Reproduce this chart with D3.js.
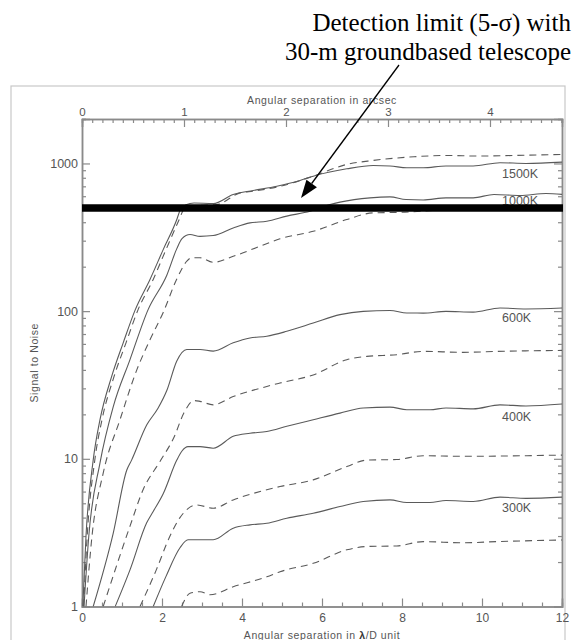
<!DOCTYPE html>
<html>
<head>
<meta charset="utf-8">
<script src="https://cdn.jsdelivr.net/npm/d3@7"></script>
<style>
  body { margin: 0; background: #fff; }
  svg { display: block; }
  .tick text { font-family: "Liberation Sans", Arial, sans-serif; fill: #555; }
</style>
</head>
<body>
<div id="container"></div>
<script>
//---------------------------------------------------------
// DATA  (x in lambda/D, y = signal to noise)

const temps = ['1500K', '1000K', '600K', '400K', '300K']

const solid1500 = [[0.02,1],[0.1,3],[0.28,9.8],[0.45,18.4],[0.74,36],[1.03,61],[1.33,102],[1.7,164],[2.03,261],[2.37,417],[2.45,480],[2.6,525],[2.8,540],[3.28,535],[3.78,617],[4.28,656],[4.87,701],[5.45,767],[5.78,820],[6.62,920],[7.28,968],[7.7,962],[8.12,935],[8.53,935],[9.1,962],[9.78,962],[10.45,1012],[11.1,1000],[12,1021]]
const dashed1500 = [[0.04,1],[0.13,3],[0.32,9.8],[0.5,18.4],[0.8,36],[1.1,61],[1.4,102],[1.78,164],[2.1,261],[2.43,417],[2.55,490],[2.75,515],[2.95,520],[3.37,527],[3.95,632],[4.3,650],[4.95,700],[5.78,820],[6.62,985],[7.28,1048],[8.3,1110],[9.1,1133],[9.95,1122],[10.8,1133],[12,1151]]

const solid1000 = [[0.05,1],[0.17,3],[0.45,9.4],[0.78,22.5],[1.2,47],[1.65,102],[2.12,175],[2.37,265],[2.5,310],[2.7,330],[2.95,321],[3.28,325],[3.78,366],[4.2,396],[4.62,406],[5.12,440],[5.7,475],[6.2,527],[6.45,547],[7.2,585],[7.7,594],[8.1,570],[8.53,566],[9.1,585],[9.78,585],[10.3,617],[10.95,607],[11.6,626],[12,617]]
const dashed1000 = [[0.1,1],[0.25,3],[0.53,8],[0.95,18.4],[1.37,40],[1.7,64],[2.03,98],[2.37,165],[2.62,218],[2.74,230],[2.95,230],[3.28,214],[3.78,235],[4.45,275],[4.95,309],[5.78,347],[6.62,417],[7.28,463],[7.99,467],[9,485],[10.4,495],[12,500]]

const solid600 = [[0.28,1],[0.78,3.13],[1.12,8.4],[1.24,9.8],[1.62,17],[1.9,22],[2.12,29],[2.37,46],[2.62,55],[2.95,55],[3.28,53.6],[3.78,61],[4.2,65.8],[4.62,67.6],[5.12,73],[5.78,83],[6.45,94.7],[7.03,99.7],[7.7,101],[8.12,97.2],[8.53,97],[9.1,99.7],[9.78,98.5],[10.45,105],[11.1,103.5],[12,105]]
const dashed600 = [[0.53,1],[1.2,3.5],[1.53,6.2],[1.95,9.6],[2.3,14],[2.55,20.5],[2.8,24.8],[2.95,24.5],[3.28,23.2],[3.78,26.4],[4.62,30.9],[4.95,32.6],[5.78,37],[6.62,46.9],[7.12,49.4],[7.87,50.7],[8.53,53.4],[9.53,52.6],[10.37,53.4],[12,54.2]]

const solid400 = [[0.83,1],[1.2,1.77],[1.62,3.7],[1.78,4.4],[2.03,5.8],[2.37,9.8],[2.5,11.3],[2.65,12.1],[2.95,12.1],[3.28,11.8],[3.78,14.2],[4.2,14.9],[4.62,15.3],[5.12,16.6],[5.78,18.4],[6.45,20.4],[7.03,22.1],[7.7,22.4],[8.12,21.5],[8.7,21.5],[9.1,22.1],[9.78,21.8],[10.45,23.2],[11.1,22.8],[12,23.5]]
const dashed400 = [[1.45,1],[1.85,1.75],[2.2,3.0],[2.45,4.0],[2.65,4.6],[2.87,4.87],[3.28,4.63],[3.78,5.27],[4.62,6.17],[4.95,6.49],[5.78,7.2],[6.62,8.87],[7.12,9.8],[7.87,9.9],[8.53,10.5],[9.53,10.4],[12,10.6]]

const solid300 = [[1.78,1],[2.1,1.6],[2.45,2.5],[2.65,2.83],[2.95,2.83],[3.28,2.83],[3.78,3.39],[4.2,3.57],[4.62,3.66],[5.12,3.96],[5.78,4.28],[6.45,4.75],[7.03,5.14],[7.7,5.27],[8.12,5.06],[8.7,5.06],[9.1,5.22],[9.78,5.14],[10.45,5.5],[11.1,5.4],[12,5.5]]
const dashed300 = [[2.49,1],[2.7,1.23],[2.95,1.26],[3.2,1.2],[3.78,1.36],[4.62,1.59],[4.95,1.72],[5.78,1.96],[6.62,2.42],[7.12,2.55],[7.87,2.57],[8.53,2.75],[9.53,2.7],[10.37,2.75],[12,2.82]]

const solids = [solid1500, solid1000, solid600, solid400, solid300]
const dasheds = [dashed1500, dashed1000, dashed600, dashed400, dashed300]

const detectionLimit = 500
const arcsecMax = 4.706
const bottomTicks = [0, 2, 4, 6, 8, 10, 12]
const topTicks = [0, 1, 2, 3, 4]
const yTicks = [1, 10, 100, 1000]

//---------------------------------------------------------
// SETUP

const width = 574
const height = 640
const plot = {left: 82, right: 562, top: 119, bottom: 606.5}
const axisColor = '#8a8a8a'
const lineColor = '#5a5a5a'
// baseline of each temperature label, below the end of its solid curve
const labelDrop = [15.5, 11, 14, 16.5, 14.5]

const svg = d3.select('#container').append('svg')
  .attr('width', width)
  .attr('height', height)

const x = d3.scaleLinear().domain([0, 12]).range([plot.left, plot.right])
const xTop = d3.scaleLinear().domain([0, arcsecMax]).range([plot.left, plot.right])
const y = d3.scaleLog().domain([1, 2000]).range([plot.bottom, plot.top])

// outer frame of the figure
svg.append('rect')
  .attr('x', 11).attr('y', 86)
  .attr('width', 554).attr('height', 600)
  .attr('fill', 'none')
  .attr('stroke', '#c8c8c8')
  .attr('stroke-width', 1.2)

svg.append('clipPath').attr('id', 'clip')
  .append('rect')
  .attr('x', plot.left).attr('y', plot.top)
  .attr('width', plot.right - plot.left).attr('height', plot.bottom - plot.top)

//---------------------------------------------------------
// AXES

function styleAxis(g) {
  g.select('.domain').attr('stroke', axisColor).attr('stroke-width', 1.5)
  g.selectAll('.tick line').attr('stroke', axisColor).attr('stroke-width', 1.2)
}

const minorBottom = d3.range(0, 12.01, 0.5).filter(d => d % 2 !== 0)
const minorTop = d3.range(0, arcsecMax, 0.1).filter(d => Math.abs(d - Math.round(d)) > 0.01)
const minorY = d3.range(0, 3).flatMap(e => d3.range(2, 10).map(k => k * Math.pow(10, e)))
  .concat([2000])

// bottom
svg.append('g').attr('transform', `translate(0,${plot.bottom})`)
  .call(d3.axisBottom(x).tickValues(minorBottom).tickSize(-4).tickFormat(''))
  .call(styleAxis)
svg.append('g').attr('transform', `translate(0,${plot.bottom})`)
  .call(d3.axisBottom(x).tickValues(bottomTicks).tickSize(-8).tickPadding(7).tickFormat(d3.format('d')))
  .call(styleAxis)
  .call(g => g.selectAll('.tick text').attr('font-size', 12))

// top
svg.append('g').attr('transform', `translate(0,${plot.top})`)
  .call(d3.axisTop(xTop).tickValues(minorTop).tickSize(-4).tickFormat(''))
  .call(styleAxis)
svg.append('g').attr('transform', `translate(0,${plot.top})`)
  .call(d3.axisTop(xTop).tickValues(topTicks).tickSize(-8).tickPadding(3).tickFormat(d3.format('d')))
  .call(styleAxis)
  .call(g => g.selectAll('.tick text').attr('font-size', 11.5))

// left
svg.append('g').attr('transform', `translate(${plot.left},0)`)
  .call(d3.axisLeft(y).tickValues(minorY).tickSize(-4).tickFormat(''))
  .call(styleAxis)
svg.append('g').attr('transform', `translate(${plot.left},0)`)
  .call(d3.axisLeft(y).tickValues(yTicks).tickSize(-8).tickPadding(4).tickFormat(d3.format('d')))
  .call(styleAxis)
  .call(g => g.selectAll('.tick text').attr('font-size', 12.5))

// right
svg.append('g').attr('transform', `translate(${plot.right},0)`)
  .call(d3.axisRight(y).tickValues(minorY).tickSize(-4).tickFormat(''))
  .call(styleAxis)
svg.append('g').attr('transform', `translate(${plot.right},0)`)
  .call(d3.axisRight(y).tickValues(yTicks).tickSize(-8).tickFormat(''))
  .call(styleAxis)

// axis titles
const titleFont = '"Liberation Sans", Arial, sans-serif'

svg.append('text')
  .attr('x', (plot.left + plot.right) / 2).attr('y', 104)
  .attr('text-anchor', 'middle')
  .attr('font-family', titleFont).attr('font-size', 10.5).attr('fill', '#555')
  .attr('letter-spacing', 0.6)
  .text('Angular separation in arcsec')

const bottomTitle = svg.append('text')
  .attr('x', (plot.left + plot.right) / 2).attr('y', 639)
  .attr('text-anchor', 'middle')
  .attr('font-family', titleFont).attr('font-size', 10.5).attr('fill', '#555')
  .attr('letter-spacing', 0.6)
bottomTitle.append('tspan').text('Angular separation in ')
bottomTitle.append('tspan').attr('font-weight', 'bold').attr('fill', '#333').text('λ')
bottomTitle.append('tspan').text('/D unit')

svg.append('text')
  .attr('transform', `translate(38,${(plot.top + plot.bottom) / 2}) rotate(-90)`)
  .attr('text-anchor', 'middle')
  .attr('font-family', titleFont).attr('font-size', 10.5).attr('fill', '#555')
  .attr('letter-spacing', 0.6)
  .text('Signal to Noise')

//---------------------------------------------------------
// CURVES

const line = d3.line()
  .x(d => x(d[0]))
  .y(d => y(d[1]))
  .curve(d3.curveMonotoneX)

const curves = svg.append('g').attr('clip-path', 'url(#clip)')

curves.selectAll('.solid')
  .data(solids)
  .join('path')
  .attr('class', 'solid')
  .attr('d', line)
  .attr('fill', 'none')
  .attr('stroke', lineColor)
  .attr('stroke-width', 1.1)

curves.selectAll('.dashed')
  .data(dasheds)
  .join('path')
  .attr('class', 'dashed')
  .attr('d', line)
  .attr('fill', 'none')
  .attr('stroke', lineColor)
  .attr('stroke-width', 1.1)
  .attr('stroke-dasharray', '7,5')

// temperature labels under the solid curves
svg.selectAll('.temp')
  .data(temps)
  .join('text')
  .attr('class', 'temp')
  .attr('x', x(10.5))
  .attr('y', (d, i) => y(solids[i][solids[i].length - 1][1]) + labelDrop[i])
  .attr('font-family', titleFont)
  .attr('font-size', 12.5)
  .attr('fill', '#555')
  .text(d => d)

//---------------------------------------------------------
// DETECTION LIMIT + ANNOTATION

svg.append('line')
  .attr('x1', x(0)).attr('x2', x(12) + 1)
  .attr('y1', y(detectionLimit)).attr('y2', y(detectionLimit))
  .attr('stroke', '#000')
  .attr('stroke-width', 7.5)

const note = svg.append('g')
  .attr('font-family', '"Liberation Serif", "Times New Roman", serif')
  .attr('font-size', 25)
  .attr('text-anchor', 'end')
  .attr('fill', '#000')
note.append('text').attr('x', 571).attr('y', 31).text('Detection limit (5-σ) with')
note.append('text').attr('x', 571).attr('y', 60).text('30-m groundbased telescope')

const tip = [301, 198]
const tail = [399, 65]
const ang = Math.atan2(tip[1] - tail[1], tip[0] - tail[0])
const headLen = 18, headHalf = 6.5
const base = [tip[0] - headLen * Math.cos(ang), tip[1] - headLen * Math.sin(ang)]

svg.append('line')
  .attr('x1', tail[0]).attr('y1', tail[1])
  .attr('x2', base[0]).attr('y2', base[1])
  .attr('stroke', '#000').attr('stroke-width', 1.3)

svg.append('path')
  .attr('d', d3.line()([
    tip,
    [base[0] + headHalf * Math.sin(ang), base[1] - headHalf * Math.cos(ang)],
    [base[0] - headHalf * Math.sin(ang), base[1] + headHalf * Math.cos(ang)]
  ]) + 'Z')
  .attr('fill', '#000')
</script>
</body>
</html>
